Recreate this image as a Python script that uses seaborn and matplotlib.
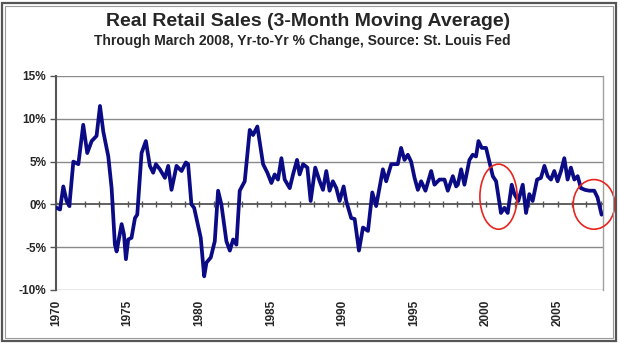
import matplotlib
matplotlib.use("Agg")
import matplotlib.pyplot as plt
import seaborn as sns
import pandas as pd
from matplotlib.patches import Ellipse, Rectangle

# ---- data ----
years = [1970.05, 1970.28, 1970.51, 1970.74, 1970.93, 1971.21, 1971.56, 1971.90, 1972.18, 1972.49,
         1972.83, 1973.07, 1973.30, 1973.65, 1973.88, 1974.11, 1974.23, 1974.58, 1974.74, 1974.88,
         1975.04, 1975.27, 1975.51, 1975.67, 1975.97, 1976.27, 1976.55, 1976.78, 1976.97, 1977.25,
         1977.60, 1977.83, 1978.06, 1978.41, 1978.76, 1979.06, 1979.22, 1979.45, 1979.64, 1979.92,
         1980.10, 1980.34, 1980.50, 1980.80, 1981.08, 1981.31, 1981.54, 1981.89, 1982.13, 1982.36,
         1982.59, 1982.82, 1983.17, 1983.52, 1983.75, 1984.05, 1984.45, 1984.75, 1985.03, 1985.26,
         1985.49, 1985.73, 1985.96, 1986.31, 1986.54, 1986.82, 1987.00, 1987.24, 1987.54, 1987.77,
         1988.09, 1988.40, 1988.63, 1988.86, 1989.09, 1989.32, 1989.56, 1989.79, 1990.07, 1990.25,
         1990.60, 1990.84, 1991.14, 1991.42, 1991.77, 1992.07, 1992.34, 1992.81, 1993.04, 1993.39,
         1993.85, 1994.08, 1994.32, 1994.55, 1994.78, 1995.02, 1995.25, 1995.48, 1995.78, 1996.18,
         1996.41, 1996.76, 1997.11, 1997.34, 1997.69, 1997.92, 1998.04, 1998.27, 1998.50, 1998.85,
         1999.08, 1999.31, 1999.48, 1999.71, 2000.01, 2000.24, 2000.48, 2000.71, 2001.05, 2001.29,
         2001.52, 2001.80, 2001.99, 2002.26, 2002.57, 2002.80, 2003.03, 2003.26, 2003.57, 2003.84,
         2004.08, 2004.31, 2004.54, 2004.77, 2005.00, 2005.24, 2005.47, 2005.70, 2005.93, 2006.17,
         2006.40, 2006.63, 2006.91, 2007.21, 2007.56, 2007.79, 2008.07]
pct_change = [-0.4, -0.6, 2.1, 0.4, -0.2, 5.0, 4.7, 9.3, 6.0, 7.4,
              8.0, 11.5, 8.5, 5.6, 1.9, -4.7, -5.5, -2.3, -3.5, -6.4,
              -4.1, -3.9, -1.6, -1.2, 6.0, 7.4, 4.5, 3.7, 4.7, 4.1,
              3.1, 4.5, 1.7, 4.5, 3.9, 4.9, 4.7, 0.0, -0.4, -2.5,
              -3.9, -8.4, -6.8, -6.2, -4.3, 1.6, 0.0, -4.3, -5.4, -4.1,
              -4.7, 1.6, 2.7, 8.7, 8.1, 9.1, 4.7, 3.7, 2.5, 3.5,
              2.9, 5.4, 2.9, 1.9, 3.5, 5.2, 3.5, 4.7, 4.3, 0.4,
              4.3, 2.7, 1.7, 3.9, 1.6, 2.7, 1.9, 0.4, 2.1, 0.4,
              -1.6, -1.7, -5.4, -2.7, -3.1, 1.4, -0.2, 4.1, 2.7, 4.7,
              4.7, 6.6, 5.2, 5.8, 5.0, 3.1, 1.7, 2.7, 1.6, 3.9,
              2.3, 2.9, 2.9, 1.6, 3.3, 2.1, 2.3, 4.1, 2.3, 5.2,
              5.8, 5.6, 7.4, 6.6, 6.6, 5.0, 3.3, 2.7, -1.0, -0.4,
              -1.0, 2.3, 1.2, 0.4, 2.3, -1.0, 1.2, 0.4, 2.9, 3.1,
              4.5, 3.3, 2.9, 3.9, 2.7, 3.9, 5.4, 2.9, 4.3, 2.9,
              3.3, 1.9, 1.7, 1.6, 1.6, 0.8, -1.2]

year_ticks = [1970, 1975, 1980, 1985, 1990, 1995, 2000, 2005]
minor_years = list(range(1970, 2009))
y_ticks = [-10, -5, 0, 5, 10, 15]
y_tick_labels = ["-10%", "-5%", "0%", "5%", "10%", "15%"]

# highlighted regions (red circles): centre year, centre value, width (yrs), height (%)
circle_x = [2000.88, 2007.54]
circle_y = [0.9, 0.0]
circle_w = [2.6, 2.9]
circle_h = [7.6, 5.8]

title = "Real Retail Sales (3-Month Moving Average)"
subtitle = "Through March 2008, Yr-to-Yr % Change, Source: St. Louis Fed"

# ---- plot ----
sns.set_style("white")
plt.rcParams["font.family"] = ["Liberation Sans", "DejaVu Sans"]

W, H = 620, 343
fig = plt.figure(figsize=(W / 100, H / 100), dpi=100)
ax = fig.add_axes([56 / W, 1 - 290 / H, (603 - 56) / W, (290 - 76) / H])

df = pd.DataFrame({"year": years, "pct": pct_change})
sns.lineplot(data=df, x="year", y="pct", ax=ax, color="#0B0B85", linewidth=2.7,
             estimator=None, sort=False, zorder=5)

ax.set_xlim(1970, 2008.17)
ax.set_ylim(-10, 15)

for v in y_ticks:
    if v == 0:
        ax.axhline(v, color="#555555", lw=1.3, zorder=2)
    else:
        ax.axhline(v, color="#8a8a8a", lw=1.0, zorder=1)

# small yearly tick marks on zero line
ax.vlines(minor_years, -0.35, 0.35, color="#555555", lw=1.0, zorder=2)

ax.set_yticks(y_ticks)
ax.set_yticklabels(y_tick_labels, fontsize=8.5, fontweight="bold")
ax.set_xticks(year_ticks)
ax.set_xticklabels([str(y) for y in year_ticks], rotation=90, fontsize=8.5,
                   fontweight="bold")
ax.tick_params(axis="x", length=0, pad=7)
ax.tick_params(axis="y", length=4, width=1, color="#555555", direction="out", pad=3, left=True)
ax.set_xlabel("")
ax.set_ylabel("")

for s in ["top", "bottom"]:
    ax.spines[s].set_visible(False)
ax.spines["left"].set_color("#555555")
ax.spines["left"].set_linewidth(1.5)
ax.spines["right"].set_color("#a0a0a0")
ax.spines["right"].set_linewidth(1.0)

for cx, cy, cw, ch in zip(circle_x, circle_y, circle_w, circle_h):
    ax.add_patch(Ellipse((cx, cy), cw, ch, fill=False, edgecolor="#e8251f",
                         lw=1.2, zorder=6, clip_on=False))

fig.text(0.497, 1 - 21 / H, title, ha="center", va="center", fontsize=14, fontweight="bold")
fig.text(0.487, 1 - 41 / H, subtitle, ha="center", va="center", fontsize=10, fontweight="bold")

# outer frame
fig.patches.append(Rectangle((1.5 / W, 2.5 / H), 614 / W, 338 / H, transform=fig.transFigure,
                             fill=False, edgecolor="#555555", lw=1.6))
fig.patches.append(Rectangle((4.5 / W, 5.5 / H), 608 / W, 332 / H, transform=fig.transFigure,
                             fill=False, edgecolor="#9a9a9a", lw=0.8))

fig.savefig("out.png", dpi=100)
